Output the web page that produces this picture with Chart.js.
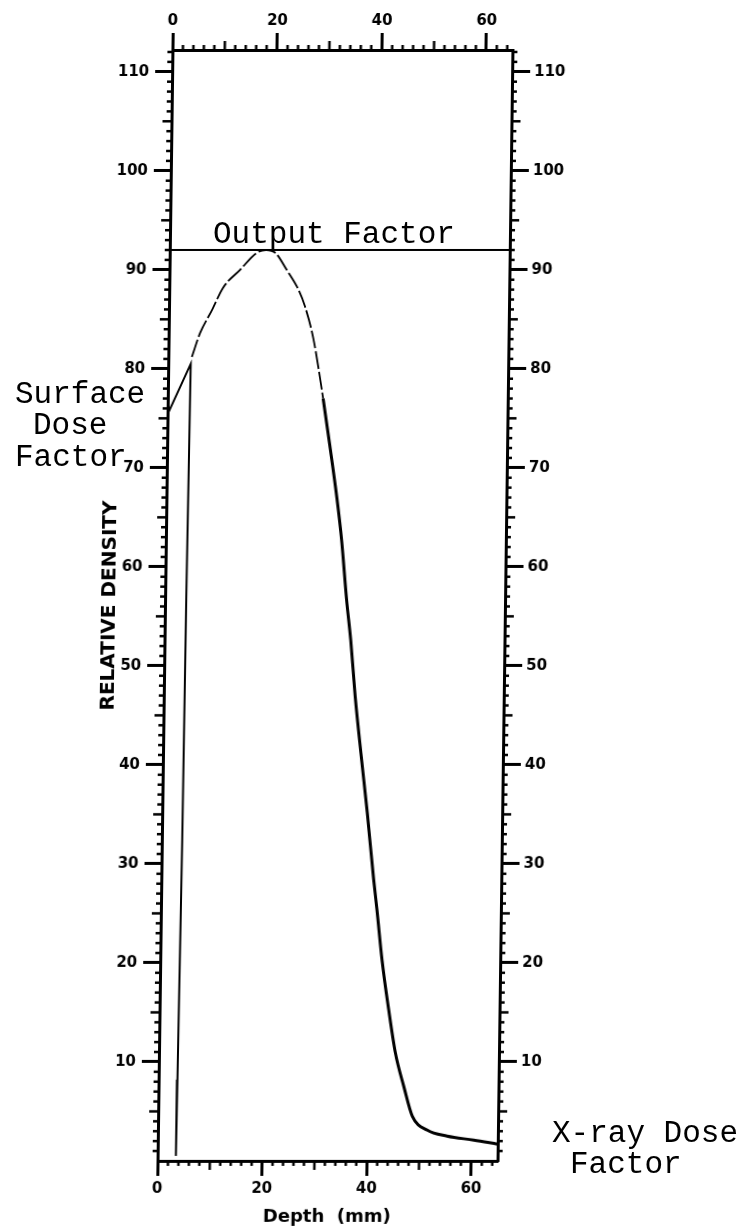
<!DOCTYPE html>
<html>
<head>
<meta charset="utf-8">
<script src="https://cdn.jsdelivr.net/npm/chart.js@4.4.1/dist/chart.umd.min.js"></script>
<style>
  html, body { margin: 0; padding: 0; background: #fff; }
  body { width: 740px; height: 1232px; position: relative; overflow: hidden; }
  /* the scanned figure is slightly sheared, so the plot canvas is too */
  #plot { position: absolute; left: 0; top: 0; transform: skewX(-0.77deg); transform-origin: 0 605px; }
  .note { position: absolute; font-family: 'Liberation Mono', 'Courier New', monospace; font-size: 31px; line-height: 31px; color: #000; white-space: pre; }
</style>
</head>
<body>
<canvas id="plot" width="740" height="1232"></canvas>
<div class="note" style="left:213px;top:219px">Output Factor</div>
<div class="note" style="left:15px;top:379px">Surface</div>
<div class="note" style="left:33px;top:410px">Dose</div>
<div class="note" style="left:15px;top:442px">Factor</div>
<div class="note" style="left:552px;top:1118px">X-ray Dose</div>
<div class="note" style="left:570px;top:1149px">Factor</div>
<script>
// tick labels
const depthTicks = [0, 20, 40, 60];
const densityTicks = [10, 20, 30, 40, 50, 60, 70, 80, 90, 100, 110];

// depth-dose curve (mm, relative density)
const mainDepth = [4.5, 6.0, 8.2, 10.3, 13.5, 16.6, 18.4, 20.2, 22.4, 24.7, 26.0, 27.7, 29.7, 31.2, 32.6, 33.6, 34.7, 35.6, 36.6, 37.9, 39.2, 40.6, 41.3, 42.4, 43.8, 45.2, 46.9, 48.6, 51.5, 55.3, 60.4, 64.9];
const mainDose = [81.2, 83.6, 85.9, 88.2, 90.0, 91.7, 92.0, 91.7, 90.0, 88.0, 86.3, 83.0, 77.0, 71.9, 66.9, 62.7, 56.7, 52.6, 46.9, 40.9, 35.2, 28.4, 25.4, 20.3, 15.3, 10.9, 7.5, 4.5, 3.1, 2.5, 2.1, 1.7];

// surface dose segment
const surfaceDepth = [0, 4.3, 4.05, 3.9, 3.6, 3.5];
const surfaceDose = [75.4, 80.5, 56.7, 32.4, 8.2, 0.5];

// output factor level
const outputDepth = [0, 65];
const outputLevel = [92, 92];

const toPoints = (xs, ys) => xs.map((x, i) => ({x: x, y: ys[i]}));

// short ticks between the labelled ones
const minorTicks = {
    id: "minorTicks",
    afterDraw(chart) {
        const ctx = chart.ctx;
        const area = chart.chartArea;
        ctx.save();
        ctx.strokeStyle = "#000";
        ctx.lineWidth = 2.5;
        ["x", "x2"].forEach(id => {
            const s = chart.scales[id];
            const y0 = id === "x" ? area.bottom : area.top;
            const dir = id === "x" ? 1 : -1;
            for (let v = 2; v <= s.max; v += 2) {
                if (v % 20 === 0) continue;
                const len = v % 10 === 0 ? 9 : 5;
                const px = s.getPixelForValue(v);
                ctx.beginPath();
                ctx.moveTo(px, y0);
                ctx.lineTo(px, y0 + dir * len);
                ctx.stroke();
            }
        });
        ["y", "y2"].forEach(id => {
            const s = chart.scales[id];
            const x0 = id === "y" ? area.left : area.right;
            const dir = id === "y" ? -1 : 1;
            for (let v = 1; v <= s.max; v += 1) {
                if (v % 10 === 0) continue;
                const len = v % 5 === 0 ? 9 : 5;
                const py = s.getPixelForValue(v);
                ctx.beginPath();
                ctx.moveTo(x0, py);
                ctx.lineTo(x0 + dir * len, py);
                ctx.stroke();
            }
        });
        ctx.restore();
    }
};

Chart.defaults.font.family = "'DejaVu Sans', Verdana, sans-serif";
Chart.defaults.color = "#000";

const axisBorder = {display: true, color: "#000", width: 3};
const tickFont = {size: 15, weight: "bold"};
const grid = len => ({drawOnChartArea: false, drawTicks: true, tickLength: len, tickWidth: 3, tickColor: "#000"});

new Chart(document.getElementById("plot"), {
    type: "scatter",
    data: {
        datasets: [
            {
                label: "Output Factor",
                data: toPoints(outputDepth, outputLevel),
                showLine: true,
                borderColor: "#000",
                borderWidth: 2,
                pointRadius: 0
            },
            {
                label: "Surface Dose",
                data: toPoints(surfaceDepth, surfaceDose),
                showLine: true,
                borderColor: "#000",
                borderWidth: 2,
                pointRadius: 0
            },
            {
                label: "Relative Density",
                data: toPoints(mainDepth, mainDose),
                showLine: true,
                borderColor: "#000",
                borderWidth: 3,
                pointRadius: 0,
                cubicInterpolationMode: "monotone",
                segment: {
                    borderWidth: c => c.p1.parsed.x <= 30 ? 1.8 : 3,
                    borderDash: c => c.p1.parsed.x <= 30 ? [18, 3] : undefined
                }
            }
        ]
    },
    options: {
        responsive: false,
        animation: false,
        devicePixelRatio: 1,
        events: [],
        layout: {padding: {left: 98, right: 175, top: 0, bottom: 0}},
        plugins: {legend: {display: false}, tooltip: {enabled: false}},
        scales: {
            x: {
                type: "linear", position: "bottom", min: 0, max: 65,
                afterBuildTicks: s => { s.ticks = depthTicks.map(v => ({value: v})); },
                afterFit: s => { s.height = 71; },
                grid: grid(15),
                border: axisBorder,
                ticks: {padding: 4, font: tickFont, maxRotation: 0},
                title: {display: true, text: "Depth  (mm)", font: {size: 18, weight: "bold"}, padding: {top: 0, bottom: 4}}
            },
            x2: {
                type: "linear", position: "top", min: 0, max: 65,
                afterBuildTicks: s => { s.ticks = depthTicks.map(v => ({value: v})); },
                afterFit: s => { s.height = 50; },
                grid: grid(17),
                border: axisBorder,
                ticks: {padding: 3, font: tickFont, maxRotation: 0}
            },
            y: {
                type: "linear", position: "left", min: 0, max: 112.2,
                afterBuildTicks: s => { s.ticks = densityTicks.map(v => ({value: v})); },
                afterFit: s => { s.width = 67; },
                grid: grid(17),
                border: axisBorder,
                ticks: {padding: 6, font: tickFont},
                title: {display: true, text: "RELATIVE DENSITY", font: {size: 20, weight: "bold"}, padding: {top: 0, bottom: 0}}
            },
            y2: {
                type: "linear", position: "right", min: 0, max: 112.2,
                afterBuildTicks: s => { s.ticks = densityTicks.map(v => ({value: v})); },
                afterFit: s => { s.width = 60; },
                grid: grid(18),
                border: axisBorder,
                ticks: {padding: 4, font: tickFont}
            }
        }
    },
    plugins: [minorTicks]
});
</script>
</body>
</html>
